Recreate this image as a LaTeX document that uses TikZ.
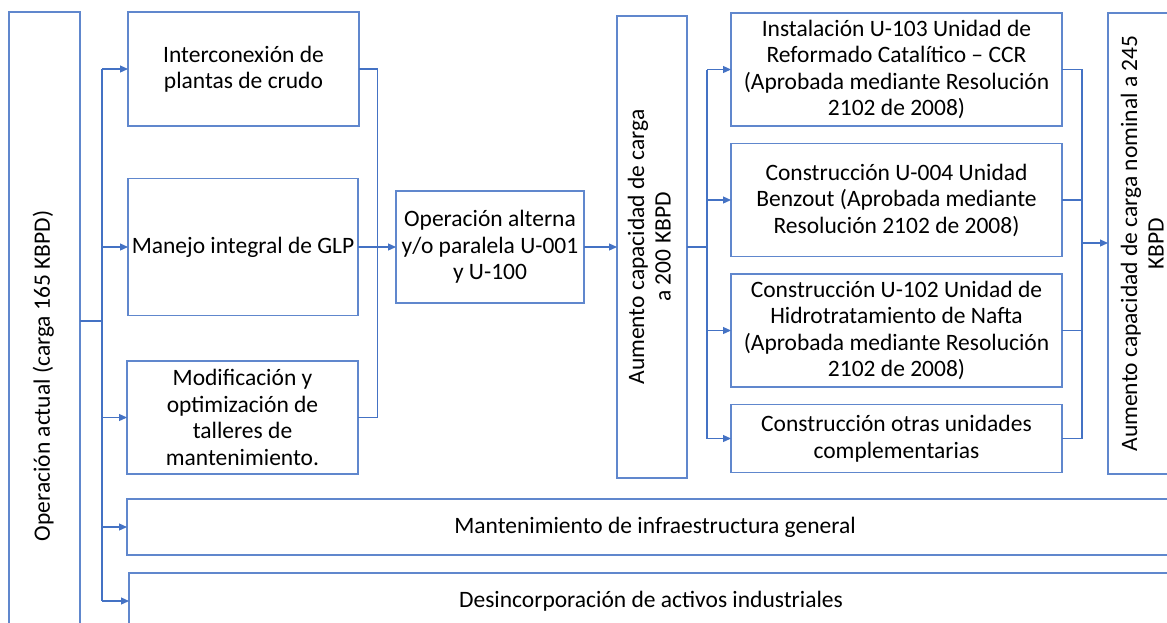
\documentclass[tikz,border=0pt]{standalone}
\usepackage{fontspec}
\setmainfont{Carlito}
\usepackage{graphicx}
\usepackage{xcolor}
\definecolor{colorLine}{HTML}{4472C4}
\colorlet{colorBox}{colorLine!85!white}
\usepackage{tikz}
\usetikzlibrary{arrows.meta, positioning}
\tikzset{box/.style={draw=colorBox, line width=1.2pt, align=center, inner sep=2pt, outer sep=0pt, font=\fontsize{23.5}{26.5}\selectfont}}
\tikzset{link/.style={draw=colorLine, line width=1.2pt}}
\newcommand{\vtext}[1]{\rotatebox{90}{\begin{tabular}{@{}c@{}}#1\end{tabular}}}

\begin{document}
\begin{tikzpicture}[x=1pt, y=1pt, >={Triangle[length=8pt, width=7pt]}, node distance=17.5pt]
\useasboundingbox (0,0) rectangle (1167,-622);
\clip (0,0) rectangle (1167,-622);
\node[box, minimum width=71pt, minimum height=728pt] (op) at (44.5,-376) {\vtext{Operación actual (carga 165 KBPD)}};
\node[box, minimum width=231pt, minimum height=114pt] (inter) at (243.5,-69) {Interconexión de\\plantas de crudo};
\node[box, minimum width=230pt, minimum height=137pt] (manejo) at (243,-247) {Manejo integral de GLP};
\node[box, minimum width=231pt, minimum height=113pt] (modif) at (242.5,-417.5) {Modificación y\\optimización de\\talleres de\\mantenimiento.};
\node[box, minimum width=188pt, minimum height=112pt] (alt) at (490,-247) {Operación alterna\\y/o paralela U-001\\y U-100};
\node[box, minimum width=70pt, minimum height=462pt] (aum200) at (652,-247) {\vtext{Aumento capacidad de carga\\a 200 KBPD}};
\node[box, minimum width=331pt, minimum height=113pt] (inst) at (896.5,-69.5) {Instalación U-103 Unidad de\\Reformado Catalítico -- CCR\\(Aprobada mediante Resolución\\2102 de 2008)};
\node[box, minimum width=331pt, minimum height=113pt, below=of inst] (benz) {Construcción U-004 Unidad\\Benzout (Aprobada mediante\\Resolución 2102 de 2008)};
\node[box, minimum width=331pt, minimum height=113pt, below=of benz] (u102) {Construcción U-102 Unidad de\\Hidrotratamiento de Nafta\\(Aprobada mediante Resolución\\2102 de 2008)};
\node[box, minimum width=331pt, minimum height=68pt, below=of u102] (otras) {Construcción otras unidades\\complementarias};
\node[box, minimum width=74pt, minimum height=461pt] (aum245) at (1145,-243.5) {\vtext{Aumento capacidad de carga nominal a 245\\KBPD}};
\node[box, minimum width=1056pt, minimum height=56pt] (mant) at (655,-527) {Mantenimiento de infraestructura general};
\node[box, minimum width=1044pt, minimum height=56pt] (desinc) at (651,-601) {Desincorporación de activos industriales};
\coordinate (tr) at (102,-321);
\coordinate (m1) at (377.5,-247);
\coordinate (br) at (707,-247);
\coordinate (m2) at (1082,-243);
\draw[link] (op.east |- tr) -- (tr);
\draw[link] (tr |- inter.west) -- (tr |- desinc.west);
\foreach \n in {inter, manejo, modif, mant, desinc}
  \draw[link, ->] (tr |- \n.west) -- (\n.west);
\draw[link] (inter.east) -| (m1 |- modif.east) -- (modif.east);
\draw[link, ->] (manejo.east) -- (alt.west);
\draw[link, ->] (alt.east) -- (aum200.west);
\draw[link] (aum200.east) -- (br);
\draw[link] (br |- inst.west) -- (br |- otras.west);
\foreach \n in {inst, benz, u102, otras}
  \draw[link, ->] (br |- \n.west) -- (\n.west);
\draw[link] (inst.east) -| (m2 |- otras.east) -- (otras.east);
\draw[link] (benz.east) -- (m2 |- benz.east);
\draw[link] (u102.east) -- (m2 |- u102.east);
\draw[link, ->] (m2) -- (m2 -| aum245.west);
\end{tikzpicture}
\end{document}
